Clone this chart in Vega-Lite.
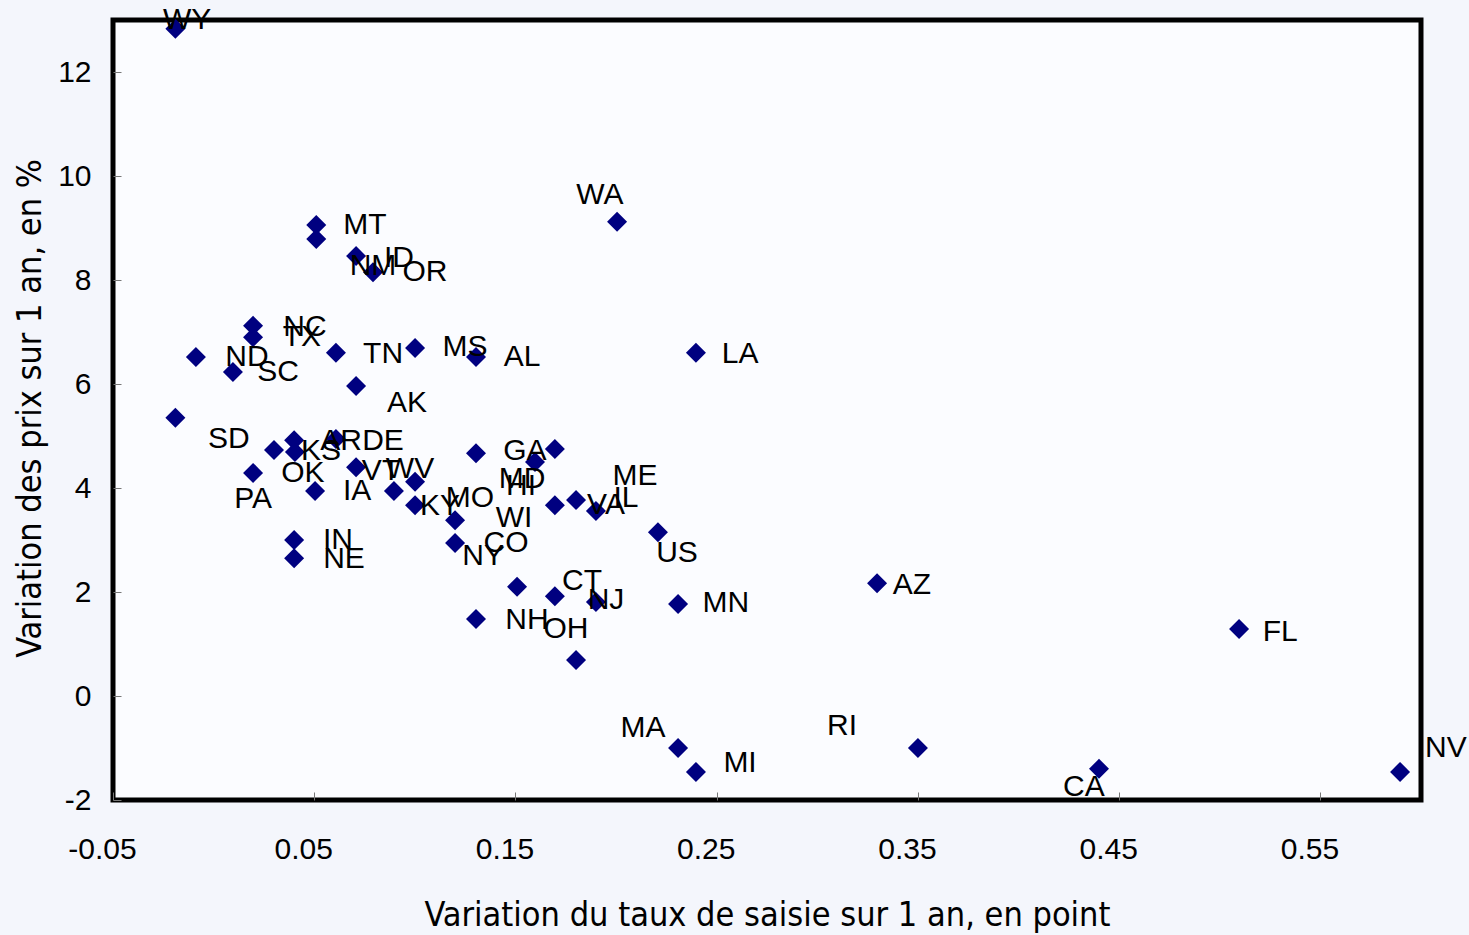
{
  "$schema": "https://vega.github.io/schema/vega-lite/v6.json",
  "width": 1308,
  "height": 780,
  "autosize": {"type": "none"},
  "padding": {"left": 113, "top": 20, "right": 48, "bottom": 135},
  "background": "#f4f6fc",
  "config": {
    "view": {"stroke": "#000000", "strokeWidth": 5, "fill": "#fbfcff"},
    "font": "Liberation Sans"
  },
  "data": {
    "values": [
      {"state": "WY", "x": -0.019, "y": 12.83, "lx": -0.0132, "ly": 13.0},
      {"state": "MT", "x": 0.051, "y": 9.06, "lx": 0.0752, "ly": 9.06},
      {"state": "NM", "x": 0.051, "y": 8.79, "lx": 0.0792, "ly": 8.27},
      {"state": "ID", "x": 0.0708, "y": 8.46, "lx": 0.0921, "ly": 8.42},
      {"state": "OR", "x": 0.0792, "y": 8.15, "lx": 0.105, "ly": 8.15},
      {"state": "WA", "x": 0.2005, "y": 9.12, "lx": 0.192, "ly": 9.63},
      {"state": "LA", "x": 0.2397, "y": 6.6, "lx": 0.2616, "ly": 6.58},
      {"state": "NC", "x": 0.0196, "y": 7.12, "lx": 0.0454, "ly": 7.1},
      {"state": "TX", "x": 0.0196, "y": 6.9, "lx": 0.0439, "ly": 6.9},
      {"state": "ND", "x": -0.0088, "y": 6.52, "lx": 0.0166, "ly": 6.52},
      {"state": "SC", "x": 0.0096, "y": 6.23, "lx": 0.032, "ly": 6.23},
      {"state": "TN", "x": 0.0608, "y": 6.6, "lx": 0.0842, "ly": 6.58},
      {"state": "MS", "x": 0.1001, "y": 6.69, "lx": 0.1249, "ly": 6.71},
      {"state": "AL", "x": 0.1304, "y": 6.52, "lx": 0.1533, "ly": 6.52},
      {"state": "AK", "x": 0.0708, "y": 5.96, "lx": 0.0961, "ly": 5.63},
      {"state": "SD", "x": -0.019, "y": 5.35, "lx": 0.0076, "ly": 4.94},
      {"state": "KS", "x": 0.03, "y": 4.73, "lx": 0.0534, "ly": 4.71},
      {"state": "AR", "x": 0.04, "y": 4.92, "lx": 0.0633, "ly": 4.9},
      {"state": "DE", "x": 0.0608, "y": 4.94, "lx": 0.0842, "ly": 4.9},
      {"state": "OK", "x": 0.0196, "y": 4.29, "lx": 0.0444, "ly": 4.29},
      {"state": "PA", "x": 0.0404, "y": 4.69, "lx": 0.0196, "ly": 3.79},
      {"state": "IA", "x": 0.0504, "y": 3.94, "lx": 0.0713, "ly": 3.94},
      {"state": "WV", "x": 0.0708, "y": 4.4, "lx": 0.0976, "ly": 4.37},
      {"state": "VT", "x": 0.0896, "y": 3.94, "lx": 0.0832, "ly": 4.33},
      {"state": "MO", "x": 0.1001, "y": 4.12, "lx": 0.1274, "ly": 3.81},
      {"state": "KY", "x": 0.1001, "y": 3.67, "lx": 0.1125, "ly": 3.65},
      {"state": "NY", "x": 0.12, "y": 3.38, "lx": 0.1339, "ly": 2.69},
      {"state": "CO", "x": 0.12, "y": 2.94, "lx": 0.1453, "ly": 2.94},
      {"state": "GA", "x": 0.1304, "y": 4.67, "lx": 0.1547, "ly": 4.71},
      {"state": "HI", "x": 0.1597, "y": 4.5, "lx": 0.1528, "ly": 4.04},
      {"state": "MD", "x": 0.1696, "y": 4.75, "lx": 0.1533, "ly": 4.17},
      {"state": "VA", "x": 0.1696, "y": 3.67, "lx": 0.195, "ly": 3.67},
      {"state": "ME", "x": 0.1801, "y": 3.77, "lx": 0.2094, "ly": 4.23},
      {"state": "IL", "x": 0.19, "y": 3.56, "lx": 0.2049, "ly": 3.81},
      {"state": "WI", "x": 0.1508, "y": 2.1, "lx": 0.1493, "ly": 3.42},
      {"state": "CT", "x": 0.1696, "y": 1.92, "lx": 0.1831, "ly": 2.21},
      {"state": "NJ", "x": 0.19, "y": 1.81, "lx": 0.195, "ly": 1.85},
      {"state": "US", "x": 0.2208, "y": 3.15, "lx": 0.2303, "ly": 2.75},
      {"state": "MN", "x": 0.2308, "y": 1.77, "lx": 0.2546, "ly": 1.79},
      {"state": "NH", "x": 0.1304, "y": 1.48, "lx": 0.1557, "ly": 1.46},
      {"state": "OH", "x": 0.1801, "y": 0.69, "lx": 0.1751, "ly": 1.29},
      {"state": "AZ", "x": 0.3297, "y": 2.17, "lx": 0.347, "ly": 2.13},
      {"state": "FL", "x": 0.5096, "y": 1.29, "lx": 0.53, "ly": 1.23},
      {"state": "CA", "x": 0.44, "y": -1.4, "lx": 0.4325, "ly": -1.75},
      {"state": "NV", "x": 0.5896, "y": -1.46, "lx": 0.6124, "ly": -1.0},
      {"state": "MA", "x": 0.2308, "y": -1.0, "lx": 0.2134, "ly": -0.62},
      {"state": "MI", "x": 0.2397, "y": -1.46, "lx": 0.2616, "ly": -1.29},
      {"state": "RI", "x": 0.35, "y": -1.0, "lx": 0.3123, "ly": -0.58},
      {"state": "IN", "x": 0.04, "y": 3.0, "lx": 0.0618, "ly": 3.0},
      {"state": "NE", "x": 0.04, "y": 2.65, "lx": 0.0648, "ly": 2.63}
    ]
  },
  "layer": [
    {
      "mark": {"type": "point", "shape": "diamond", "filled": true, "size": 400, "color": "#000080", "opacity": 1},
      "encoding": {
        "x": {
          "field": "x", "type": "quantitative",
          "scale": {"domain": [-0.05, 0.6], "nice": false, "zero": false},
          "axis": {
            "title": "Variation du taux de saisie sur 1 an, en point",
            "values": [-0.05, 0.05, 0.15, 0.25, 0.35, 0.45, 0.55],
            "labelExpr": "(datum.value < 0 ? '-' : '') + format(abs(datum.value), '.2f')",
            "labelFontSize": 30, "labelColor": "#000", "labelFont": "Liberation Sans",
            "labelPadding": 42, "labelOffset": -11, "labelFlush": false, "labelOverlap": false,
            "domain": false, "grid": false,
            "tickSize": -8, "tickColor": "#777", "tickWidth": 1,
            "titleFont": "Liberation Sans Narrow, DejaVu Sans Condensed, Liberation Sans",
            "titleFontSize": 34, "titleFontWeight": "normal", "titleColor": "#000",
            "titleY": 125, "titleBaseline": "alphabetic"
          }
        },
        "y": {
          "field": "y", "type": "quantitative",
          "scale": {"domain": [-2, 13], "nice": false, "zero": false},
          "axis": {
            "title": "Variation des prix sur 1 an, en %",
            "values": [-2, 0, 2, 4, 6, 8, 10, 12],
            "labelExpr": "(datum.value < 0 ? '-' : '') + format(abs(datum.value), 'd')",
            "labelFontSize": 30, "labelColor": "#000", "labelFont": "Liberation Sans",
            "labelPadding": 30, "labelFlush": false, "labelOverlap": false,
            "domain": false, "grid": false,
            "tickSize": -8, "tickColor": "#777", "tickWidth": 1,
            "titleFont": "Liberation Sans Narrow, DejaVu Sans Condensed, Liberation Sans",
            "titleFontSize": 34, "titleFontWeight": "normal", "titleColor": "#000",
            "titleX": -73, "titleY": 388, "titleAngle": -90, "titleBaseline": "alphabetic", "titleAlign": "center"
          }
        }
      }
    },
    {
      "mark": {"type": "text", "fontSize": 30, "font": "Liberation Sans", "color": "#000", "align": "center", "baseline": "middle"},
      "encoding": {
        "x": {"field": "lx", "type": "quantitative"},
        "y": {"field": "ly", "type": "quantitative"},
        "text": {"field": "state"}
      }
    }
  ]
}
